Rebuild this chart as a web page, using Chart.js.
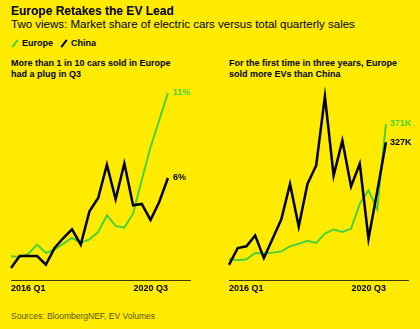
<!DOCTYPE html>
<html>
<head>
<meta charset="utf-8">
<script src="https://cdn.jsdelivr.net/npm/chart.js@4"></script>
<style>
  html, body { margin: 0; padding: 0; }
  body { width: 420px; height: 329px; background: #ffeb00; position: relative; overflow: hidden;
         font-family: "Liberation Sans", Arial, sans-serif; color: #000; }
  .abs { position: absolute; white-space: nowrap; }
  #title { left: 11px; top: 4px; font-size: 12px; font-weight: bold; line-height: 14px; }
  #subtitle { left: 11px; top: 17px; font-size: 11.5px; line-height: 14px; }
  .leg { top: 38px; font-size: 9px; font-weight: bold; line-height: 11px; }
  .slash { position: absolute; top: 39px; width: 2px; height: 9px; transform: rotate(38deg); }
  .ptitle { top: 58px; font-size: 9px; font-weight: bold; line-height: 11px; }
  #source { left: 11px; top: 311px; font-size: 8.5px; line-height: 11px; color: #5a5500; }
  canvas { position: absolute; }
</style>
</head>
<body>
<div id="title" class="abs">Europe Retakes the EV Lead</div>
<div id="subtitle" class="abs">Two views: Market share of electric cars versus total quarterly sales</div>
<div class="slash" style="left:14px;background:#4ad13d;"></div>
<div class="abs leg" style="left:22px;">Europe</div>
<div class="slash" style="left:63px;background:#000;"></div>
<div class="abs leg" style="left:71px;">China</div>
<div class="abs ptitle" style="left:11px;">More than 1 in 10 cars sold in Europe<br>had a plug in Q3</div>
<div class="abs ptitle" style="left:229px;">For the first time in three years, Europe<br>sold more EVs than China</div>
<canvas id="c1" width="200" height="220" style="left:0px;top:80px;"></canvas>
<canvas id="c2" width="210" height="220" style="left:210px;top:80px;"></canvas>
<div id="source" class="abs">Sources: BloombergNEF, EV Volumes</div>
<script>
// ---- data ----
const quarters = ['2016 Q1','2016 Q2','2016 Q3','2016 Q4','2017 Q1','2017 Q2','2017 Q3','2017 Q4',
                  '2018 Q1','2018 Q2','2018 Q3','2018 Q4','2019 Q1','2019 Q2','2019 Q3','2019 Q4',
                  '2020 Q1','2020 Q2','2020 Q3'];
const tickLabels = ['2016 Q1', '2020 Q3'];
const seriesNames = ['Europe', 'China'];

// market share of plug-in cars, %
const europeShare = [1.39,1.35,1.55,2.08,1.59,1.78,2.14,2.47,2.20,2.39,2.82,3.80,3.18,3.08,3.90,5.90,7.80,9.40,11.0];
const chinaShare  = [0.71,1.41,1.41,1.41,0.90,1.88,2.47,2.98,2.08,4.04,4.82,6.78,4.75,6.86,4.39,4.47,3.53,4.59,6.0];
const shareEndLabels = ['11%', '6%'];

// quarterly EV sales, thousands
const europeSales = [50,47,49,64,63,65,68,80,86,93,88,110,120,114,122,181,213,168,371];
const chinaSales  = [36,76,80,106,52,98,144,228,127,228,272,436,248,331,222,276,98,210,327];
const salesEndLabels = ['371K', '327K'];

const GREEN = '#4ad13d';
const BLACK = '#000000';

function pts(arr) { return arr.map((v, i) => ({ x: i, y: v })); }

const endLabelPlugin = {
  id: 'endLabels',
  afterDatasetsDraw(chart) {
    const ctx = chart.ctx;
    ctx.save();
    ctx.font = 'bold 9px "Liberation Sans", Arial, sans-serif';
    ctx.textBaseline = 'middle';
    ctx.textAlign = 'left';
    chart.data.datasets.forEach((ds, i) => {
      const meta = chart.getDatasetMeta(i);
      const p = meta.data[meta.data.length - 1];
      ctx.fillStyle = ds.labelColor;
      ctx.fillText(ds.endLabel, p.x + ds.labelDx, p.y + ds.labelDy);
    });
    ctx.restore();
  }
};

function makeChart(id, eu, cn, endLabels, yMax, padLeft, padRight, dx) {
  return new Chart(document.getElementById(id), {
    type: 'line',
    data: {
      datasets: [
        { label: seriesNames[1], data: pts(cn), borderColor: BLACK, borderWidth: 2.5,
          pointRadius: 0, tension: 0, fill: false, endLabel: endLabels[1], labelColor: BLACK,
          labelDx: dx, labelDy: 0, clip: false, borderJoinStyle: 'miter' },
        { label: seriesNames[0], data: pts(eu), borderColor: GREEN, borderWidth: 2,
          pointRadius: 0, tension: 0, fill: false, endLabel: endLabels[0], labelColor: GREEN,
          labelDx: dx, labelDy: 0, clip: false, borderJoinStyle: 'miter' }
      ]
    },
    options: {
      responsive: false,
      animation: false,
      events: [],
      layout: { padding: { left: padLeft, right: padRight, top: 0, bottom: 0 } },
      plugins: { legend: { display: false }, tooltip: { enabled: false }, title: { display: false } },
      scales: {
        x: {
          type: 'linear',
          min: 0,
          max: 20.53,
          grid: { display: false, drawTicks: false },
          border: { display: true, color: '#3d3a14', width: 1 },
          afterBuildTicks: (s) => { s.ticks = [{ value: 0 }, { value: quarters.length - 1 }]; },
          afterFit: (s) => { s.height = 20; },
          ticks: {
            autoSkip: false,
            maxRotation: 0,
            align: 'inner',
            padding: 3,
            color: '#000',
            font: { family: '"Liberation Sans", Arial, sans-serif', size: 9, weight: 'bold' },
            callback: (v) => (v === 0 ? tickLabels[0] : tickLabels[1])
          }
        },
        y: { display: false, min: 0, max: yMax }
      }
    },
    plugins: [endLabelPlugin]
  });
}

makeChart('c1', europeShare, chinaShare, shareEndLabels, 11.76, 11, 10, 5);
makeChart('c2', europeSales, chinaSales, salesEndLabels, 475, 19, 12, 4);
</script>
</body>
</html>
